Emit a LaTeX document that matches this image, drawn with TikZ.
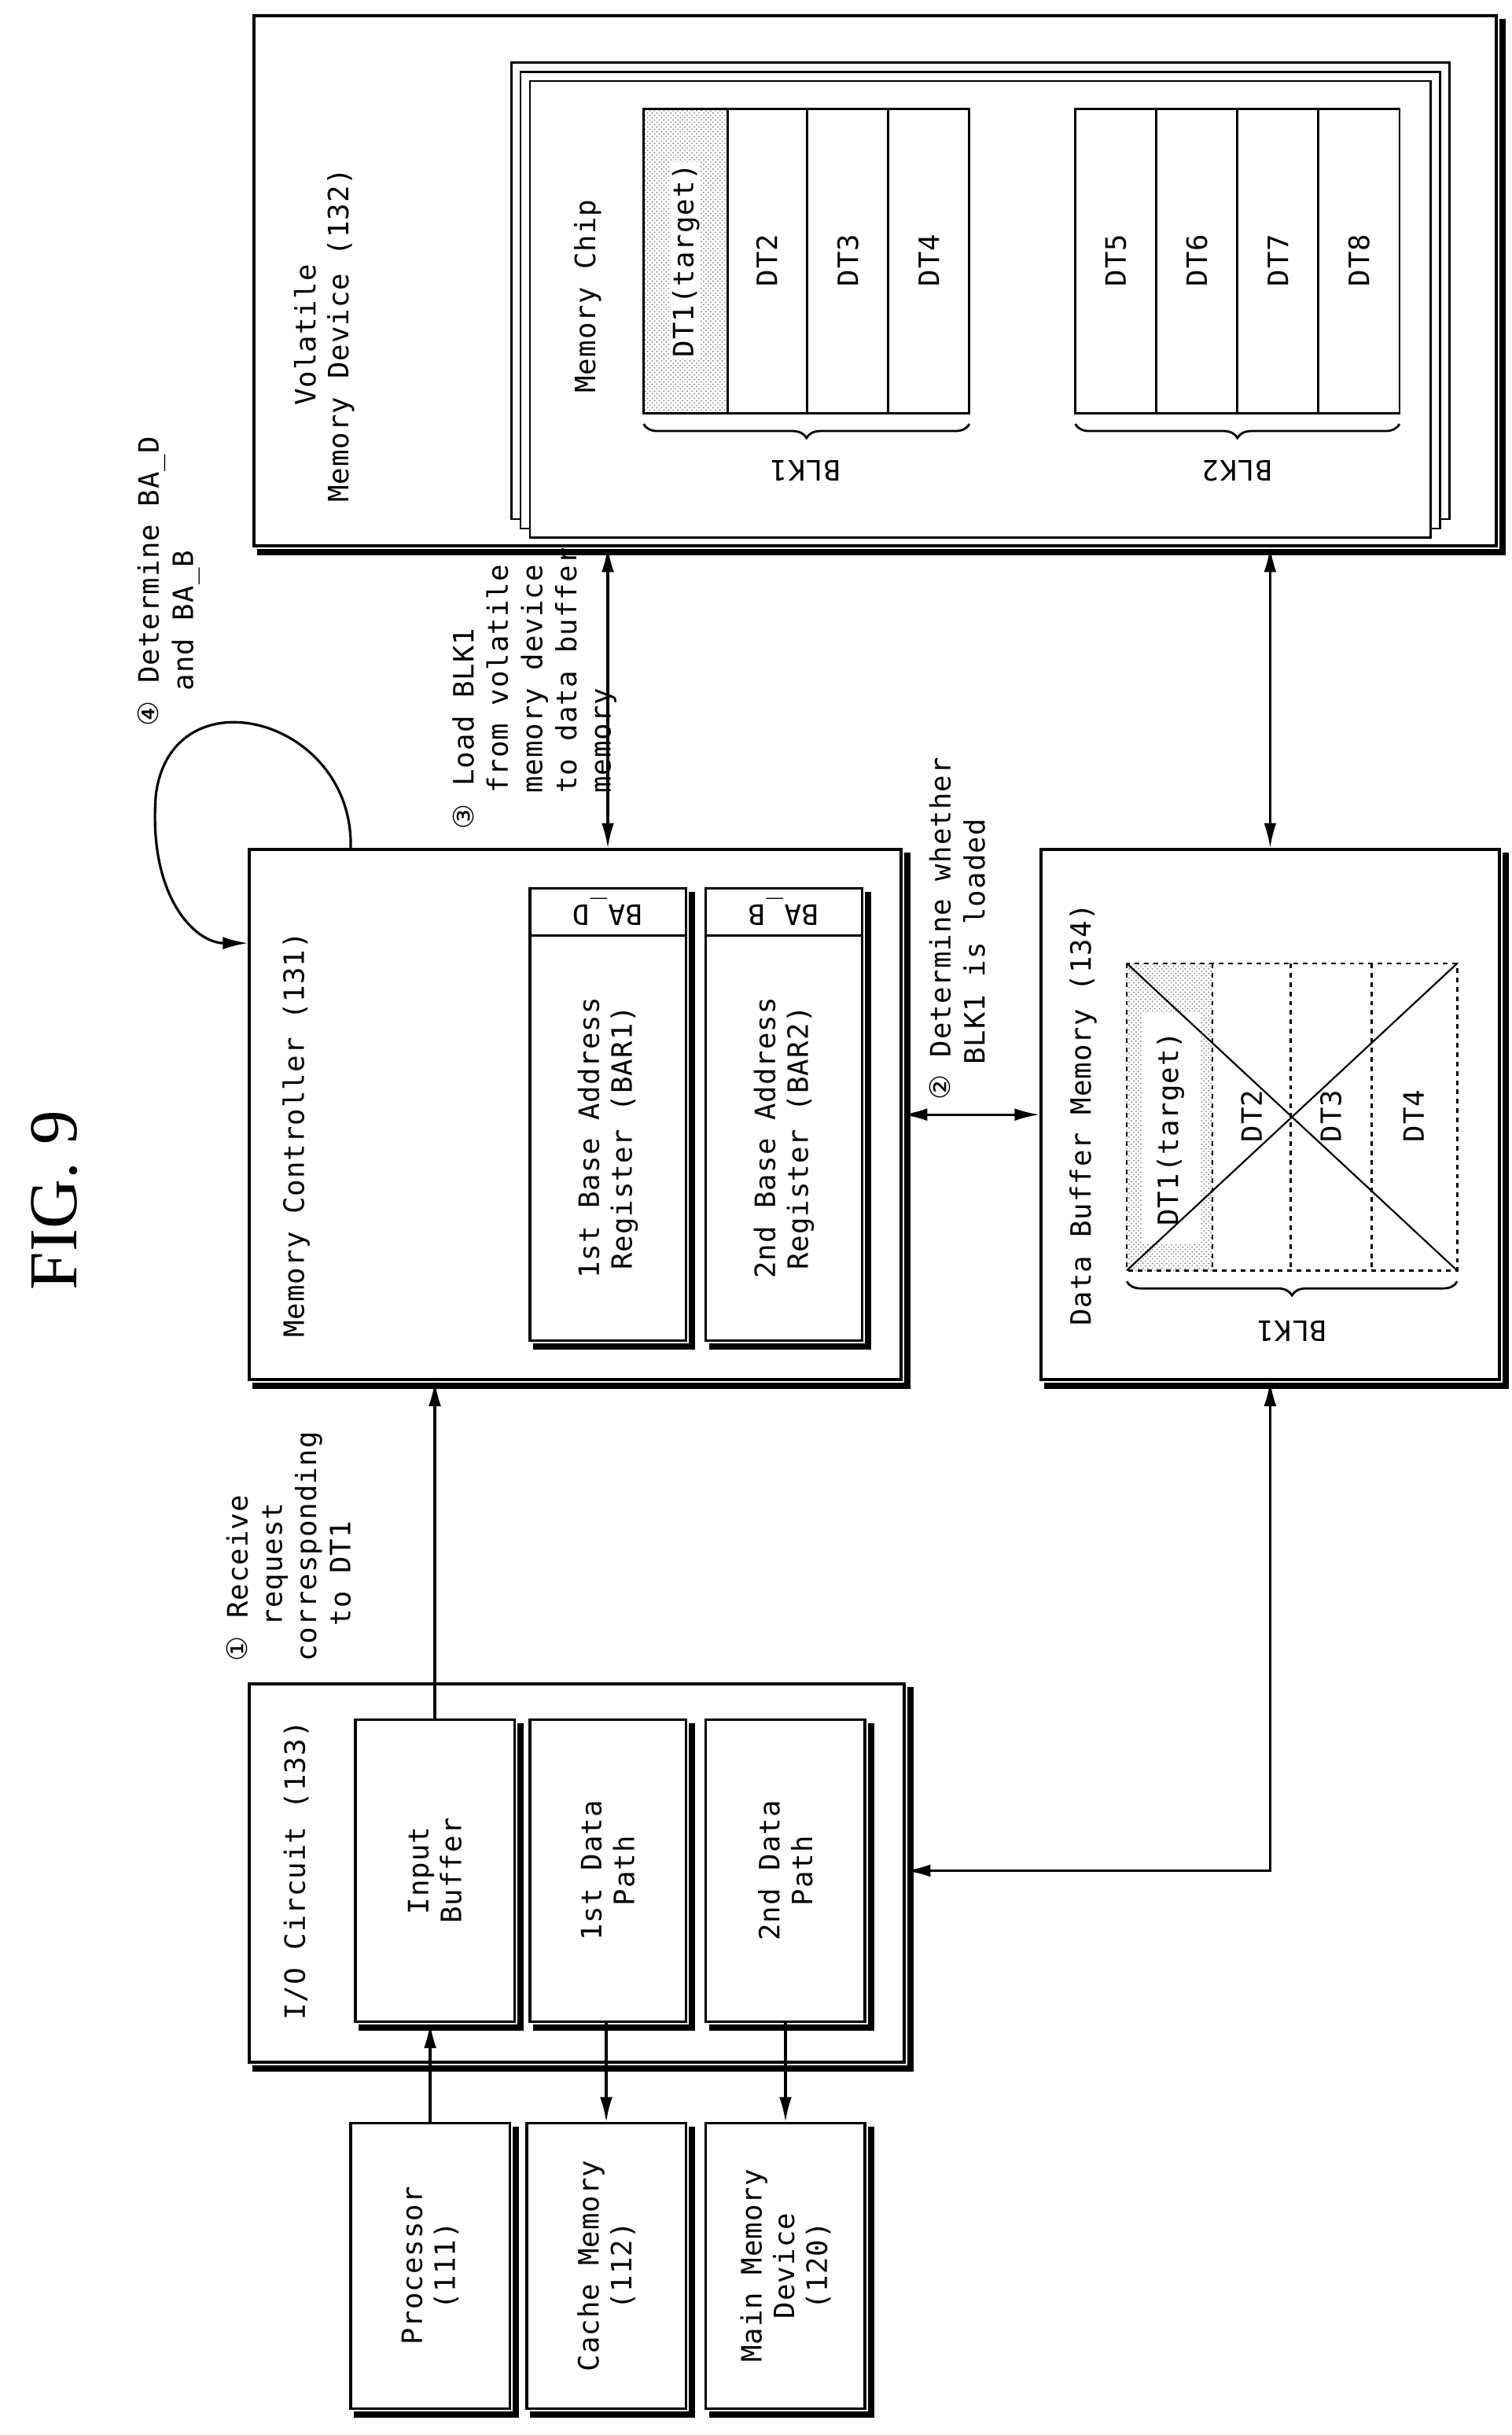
\documentclass[tikz,border=0pt]{standalone}
\usepackage{fontspec}
\setmainfont{DejaVu Sans Mono}[LetterSpace=3]
\newfontfamily\symf{DejaVu Sans}
\newfontfamily\figf{Liberation Serif}
\usetikzlibrary{fit,decorations.pathreplacing,patterns,arrows.meta}
\newcommand{\cnum}[1]{{\symf #1}}
\tikzset{
  box/.style={draw, line width=2pt, fill=white, inner sep=0pt},
  lbl/.style={rotate=90, font=\fontsize{18}{21}\selectfont, align=center},
  note/.style={rotate=90, font=\fontsize{18}{22}\selectfont, align=left, anchor=north west, inner sep=0pt},
  arr/.style={line width=1.6pt, -{Latex[length=16pt,width=8pt]}},
  darr/.style={line width=1.6pt, {Latex[length=16pt,width=8pt]}-{Latex[length=16pt,width=8pt]}},
  brc/.style={decorate, decoration={brace, amplitude=9pt, mirror}, line width=1.4pt},
  dotfill/.style={pattern=crosshatch dots, pattern color=gray},
}
\newcommand{\shd}[1]{\draw[line width=4pt] ([shift={(3pt,-3pt)}]#1.north east) -- ([shift={(3pt,-3pt)}]#1.south east) -- ([shift={(3pt,-3pt)}]#1.south west);}
\begin{document}
\begin{tikzpicture}[x=1pt, y=-1pt, >=latex]
  \useasboundingbox (0,0) rectangle (970,1562);

  % title
  \node[rotate=90, font=\figf\fontsize{44}{44}\selectfont] (fig) at (35,770) {FIG. 9};
  \node[rotate=90, font=\fontsize{18}{18}\selectfont] (ref) at (655,50) {\underline{130}};

  % volatile memory device
  \node[box, fit={(163,10) (960,350)}] (vmd) {};
  \shd{vmd}
  \node[lbl] (vmdt) at (208,215) {Volatile\\Memory Device (132)};
  \node[box, line width=1.4pt, fit={(328,40) (930,333)}] (chip3) {};
  \node[box, line width=1.4pt, fit={(334,46) (924,339)}] (chip2) {};
  \node[box, line width=1.4pt, fit={(340,52) (918,345)}] (chip) {};
  \node[lbl] (chipt) at (377,190) {Memory Chip};

  % BLK1 / BLK2 in chip
  \fill[dotfill] (413,70) rectangle (467,265);
  \draw[line width=1.4pt] (413,70) rectangle (622,265);
  \foreach \x in {467,518,570} \draw[line width=1.4pt] (\x,70) -- (\x,265);
  \node[lbl, fill=white, inner sep=1pt] (dta) at (440,167) {DT1(target)};
  \node[lbl] (dtb) at (492,167) {DT2};
  \node[lbl] (dtc) at (544,167) {DT3};
  \node[lbl] (dtd) at (596,167) {DT4};
  \draw[line width=1.4pt] (690,70) rectangle (898,265);
  \foreach \x in {742,794,846} \draw[line width=1.4pt] (\x,70) -- (\x,265);
  \foreach \t [count=\i] in {DT5,DT6,DT7,DT8}
    \node[lbl] (dte\i) at (690+52*\i-26,167) {\t};
  \draw[brc] (413,272) -- (622,272);
  \node[rotate=180, font=\fontsize{18}{18}\selectfont] (blka) at (517,302) {BLK1};
  \draw[brc] (690,272) -- (898,272);
  \node[rotate=180, font=\fontsize{18}{18}\selectfont] (blkb) at (794,302) {BLK2};

  % memory controller
  \node[box, fit={(160,545) (578,885)}] (mc) {};
  \shd{mc}
  \node[lbl] (mct) at (190,728) {Memory Controller (131)};
  \node[box, line width=1.6pt, fit={(340,570) (440,860)}] (bar1) {};
  \shd{bar1}
  \draw[line width=1.6pt] (340,600) -- (440,600);
  \node[rotate=180, font=\fontsize{18}{18}\selectfont] (bad) at (390,585) {BA\_D};
  \node[lbl] (bar1t) at (390,730) {1st Base Address\\Register (BAR1)};
  \node[box, line width=1.6pt, fit={(453,570) (553,860)}] (bar2) {};
  \shd{bar2}
  \draw[line width=1.6pt] (453,600) -- (553,600);
  \node[rotate=180, font=\fontsize{18}{18}\selectfont] (bab) at (503,585) {BA\_B};
  \node[lbl] (bar2t) at (503,730) {2nd Base Address\\Register (BAR2)};

  % data buffer memory
  \node[box, fit={(668,545) (962,885)}] (dbm) {};
  \shd{dbm}
  \node[lbl] (dbmt) at (695,715) {Data Buffer Memory (134)};
  \fill[dotfill] (723,618) rectangle (778,815);
  \fill[white] (733,650) rectangle (770,798);
  \draw[line width=1.4pt, dashed] (723,618) rectangle (935,815);
  \foreach \x in {778,828,880} \draw[line width=1.4pt, dashed] (\x,618) -- (\x,815);
  \node[lbl] (dbma) at (751,724) {DT1(target)};
  \node[lbl] (dbmb) at (803,716) {DT2};
  \node[lbl] (dbmc) at (854,716) {DT3};
  \node[lbl] (dbmd) at (907,716) {DT4};
  \draw[line width=1.1pt] (723,618) -- (935,815) (723,815) -- (935,618);
  \draw[brc] (723,822) -- (935,822);
  \node[rotate=180, font=\fontsize{18}{18}\selectfont] (blkc) at (829,854) {BLK1};

  % I/O circuit
  \node[box, fit={(160,1080) (580,1323)}] (io) {};
  \shd{io}
  \node[lbl] (iot) at (190,1200) {I/O Circuit (133)};
  \node[box, line width=1.6pt, fit={(228,1103) (330,1297)}] (ib) {};
  \shd{ib}
  \node[lbl] at (ib) {Input\\Buffer};
  \node[box, line width=1.6pt, fit={(340,1103) (440,1297)}] (dp1) {};
  \shd{dp1}
  \node[lbl] at (dp1) {1st Data\\Path};
  \node[box, line width=1.6pt, fit={(453,1103) (555,1297)}] (dp2) {};
  \shd{dp2}
  \node[lbl] at (dp2) {2nd Data\\Path};

  % host side
  \node[box, line width=1.6pt, fit={(225,1362) (327,1545)}] (proc) {};
  \shd{proc}
  \node[lbl] at (proc) {Processor\\(111)};
  \node[box, line width=1.6pt, fit={(338,1362) (440,1545)}] (cache) {};
  \shd{cache}
  \node[lbl] at (cache) {Cache Memory\\(112)};
  \node[box, line width=1.6pt, fit={(453,1362) (555,1545)}] (mmd) {};
  \shd{mmd}
  \node[lbl] at (mmd) {Main Memory\\Device\\(120)};

  % connectors
  \draw[arr] (proc.north) -- (ib.south -| proc.north);
  \draw[arr] (dp1.south -| cache.north) -- (cache.north);
  \draw[arr] (dp2.south -| mmd.north) -- (mmd.north);
  \draw[arr] (ib.north) -- (ib.north |- mc.south);
  \draw[darr] (mc.north -| bar1.center) -- (vmd.south -| bar1.center);
  \draw[darr] (mc.east |- 0,715) -- (dbm.west |- 0,715);
  \draw[darr] (vmd.south -| dbm.center) -- (dbm.north);
  \draw[darr] (dbm.south) |- (io.east |- 0,1200);
  \coordinate (lp) at (225,545);
  \draw[arr] (lp) .. controls (228,460) and (110,430) .. (100,510) .. controls (95,575) and (125,605) .. (mc.west |- 0,605);

  % step notes
  \node[note] (s1) at (145,1066) {\cnum{①} Receive\\\ \ request\\corresponding\\\ \ to DT1};
  \node[note] (s2) at (596,706) {\cnum{②} Determine whether\\\ \ BLK1 is loaded};
  \node[note] (s3) at (290,532) {\cnum{③} Load BLK1\\\ \ from volatile\\\ \ memory device\\\ \ to data buffer\\\ \ memory};
  \node[note] (s4) at (88,466) {\cnum{④} Determine BA\_D\\\ \ and BA\_B};
\end{tikzpicture}
\end{document}
